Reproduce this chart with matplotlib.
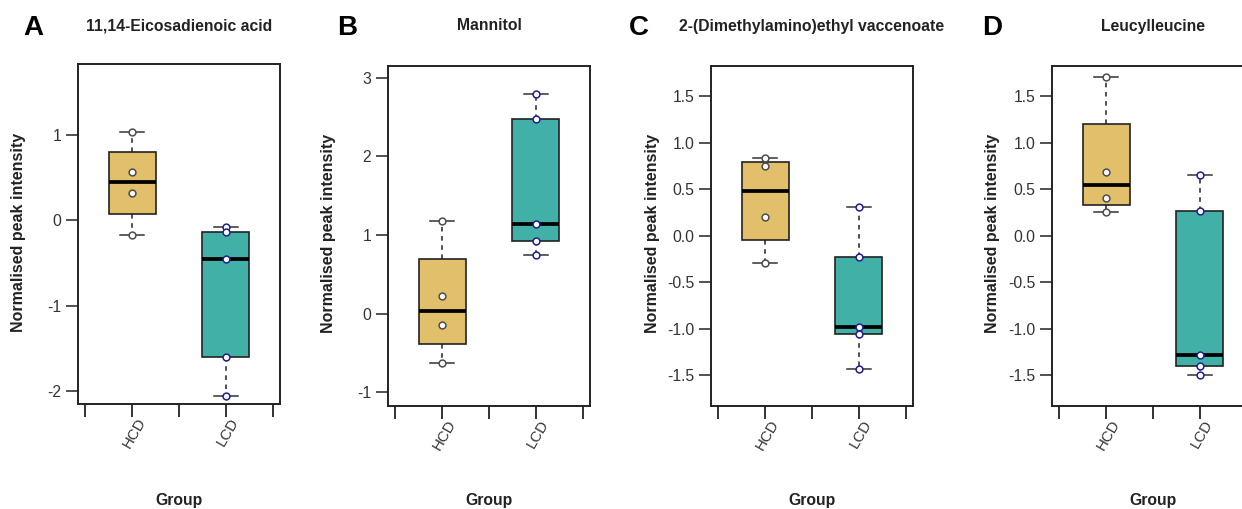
import numpy as np
import matplotlib
matplotlib.use('Agg')
import matplotlib.pyplot as plt
from matplotlib.transforms import offset_copy

plt.rcParams['font.family'] = ['Liberation Sans', 'DejaVu Sans']

# data (individual samples per group)
groups = ['HCD', 'LCD']
letters = ['A', 'B', 'C', 'D']
titles = ['11,14-Eicosadienoic acid', 'Mannitol',
          '2-(Dimethylamino)ethyl vaccenoate', 'Leucylleucine']

hcd_vals = [
    [1.03, 0.57, 0.32, -0.17],
    [1.18, 0.22, -0.14, -0.63],
    [0.84, 0.75, 0.205, -0.29],
    [1.71, 0.69, 0.41, 0.26],
]
lcd_vals = [
    [-0.08, -0.14, -0.45, -1.60, -2.05],
    [2.79, 2.48, 1.14, 0.92, 0.74],
    [0.31, -0.23, -0.98, -1.06, -1.43],
    [0.65, 0.27, -1.28, -1.40, -1.50],
]

ylims = [(-2.147, 1.83), (-1.17, 3.153), (-1.83, 1.83), (-1.83, 1.83)]
yticks = [[-2, -1, 0, 1], [-1, 0, 1, 2, 3],
          [-1.5, -1.0, -0.5, 0.0, 0.5, 1.0, 1.5],
          [-1.5, -1.0, -0.5, 0.0, 0.5, 1.0, 1.5]]
ytick_fmt = ['{:.0f}', '{:.0f}', '{:.1f}', '{:.1f}']

fill_colors = ['#E2BF6A', '#41B0A6']
point_edges = ['#4d4d4d', '#1f1f8f']

# layout in pixels
W, H = 1242, 509
ax_left = [78, 388, 711, 1052]
ax_top = [64, 65.7, 65.7, 65.7]
ax_w, ax_h = 202, 340
letter_x = [33, 347, 639, 992]
ylabel_x = [19, 329, 652, 992]


def fivenum(v):
    x = np.sort(np.asarray(v, dtype=float))
    n = len(x)
    n4 = np.floor((n + 3) / 2) / 2
    d = np.array([1, n4, (n + 1) / 2, n + 1 - n4, n]) - 1
    return 0.5 * (x[np.floor(d).astype(int)] + x[np.ceil(d).astype(int)])


fig = plt.figure(figsize=(W / 100, H / 100), dpi=100)

for i in range(4):
    ax = fig.add_axes([ax_left[i] / W, 1 - (ax_top[i] + ax_h) / H, ax_w / W, ax_h / H])
    data = [hcd_vals[i], lcd_vals[i]]
    stats = []
    for g, v in zip(groups, data):
        lo, q1, med, q3, hi = fivenum(v)
        stats.append(dict(label=g, whislo=lo, q1=q1, med=med, q3=q3, whishi=hi, fliers=[]))
    bp = ax.bxp(stats, positions=[1, 2], widths=0.5, patch_artist=True,
                showfliers=False, capwidths=0.26,
                boxprops=dict(edgecolor='#222222', linewidth=1.2),
                medianprops=dict(color='black', linewidth=2.7, solid_capstyle='butt'),
                whiskerprops=dict(color='#222222', linewidth=1.1, linestyle=(0, (3, 3))),
                capprops=dict(color='#333333', linewidth=1.1))
    for patch, c in zip(bp['boxes'], fill_colors):
        patch.set_facecolor(c)
    for k, v in enumerate(data):
        ax.scatter(np.full(len(v), k + 1), v, s=24, facecolor='white',
                   edgecolor=point_edges[k], linewidth=1.1, zorder=5)

    ax.set_xlim(0.42, 2.58)
    ax.set_ylim(*ylims[i])
    ax.set_yticks(yticks[i])
    ax.set_yticklabels([ytick_fmt[i].format(t) for t in yticks[i]])
    ax.set_xticks([1, 2])
    ax.set_xticks([0.5, 1.5, 2.5], minor=True)
    ax.set_xticklabels([])
    ax.tick_params(axis='x', which='both', length=9, width=1.3, color='#222222', direction='out')
    ax.tick_params(axis='y', length=9, width=1.1, color='#222222', labelsize=11.3,
                   labelcolor='#333333', pad=3)
    for sp in ax.spines.values():
        sp.set_linewidth(1.4)
        sp.set_color('#222222')

    # rotated group labels under the ticks
    trans = offset_copy(ax.get_xaxis_transform(), fig=fig, x=10, y=-15, units='dots')
    for k, g in enumerate(groups):
        ax.text(k + 1, 0, g, transform=trans, rotation=60, ha='right', va='center',
                rotation_mode='anchor', fontsize=10.8, color='#333333')

    cx = (ax_left[i] + ax_w / 2) / W
    fig.text(cx, 1 - 26 / H, titles[i], ha='center', va='center',
             fontsize=11.3, fontweight='bold', color='#222222')
    fig.text(cx, 1 - 500 / H, 'Group', ha='center', va='center',
             fontsize=11.3, fontweight='bold', color='#222222')
    fig.text(ylabel_x[i] / W, 1 - (ax_top[i] + 168) / H, 'Normalised peak intensity',
             rotation=90, ha='center', va='center', fontsize=11.5,
             fontweight='bold', color='#222222')
    fig.text(letter_x[i] / W, 1 - 28 / H, letters[i], ha='center', va='center',
             fontsize=20, fontweight='bold', color='black')

fig.savefig('out.png', dpi=100)
